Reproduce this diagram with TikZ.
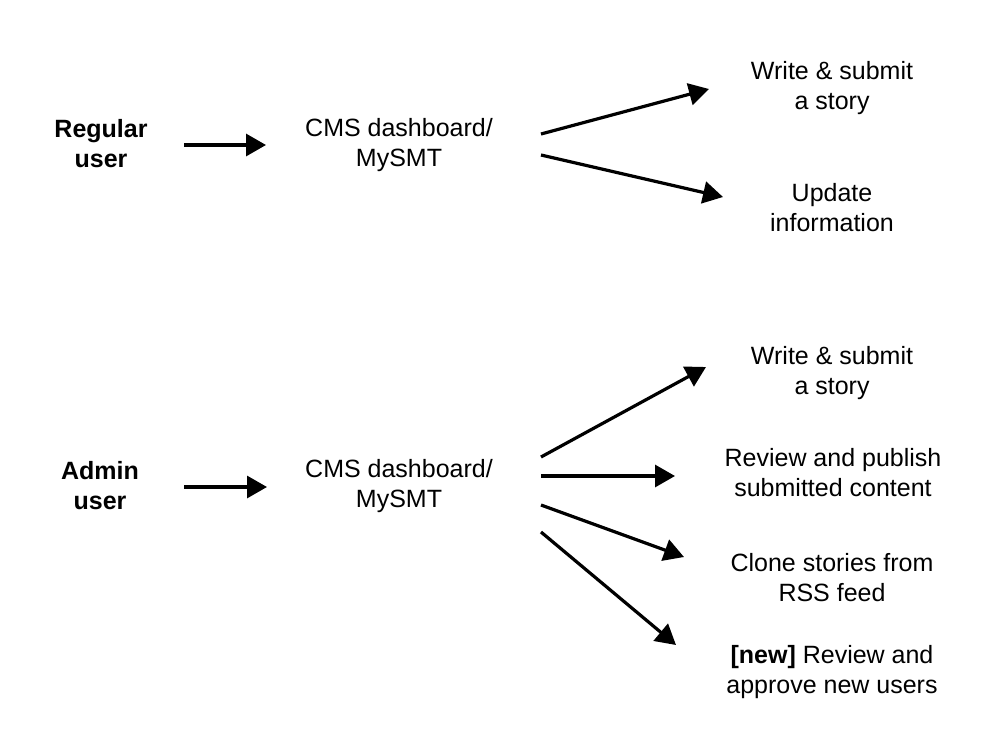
\documentclass[tikz,border=0pt]{standalone}
\usepackage{fontspec}
\setmainfont{Liberation Sans}
\usetikzlibrary{arrows.meta}
\begin{document}
\begin{tikzpicture}[x=1pt,y=-1pt,
  lbl/.style={align=center,inner sep=0pt,font=\fontsize{25pt}{30pt}\selectfont},
  who/.style={lbl,font=\fontsize{25pt}{30pt}\selectfont\bfseries},
  conn/.style={line width=3.2pt,-{Triangle[length=20pt,width=22pt]}}]
\useasboundingbox (0,0) rectangle (1000,750);
% Regular user section
\node[who] (reg) at (101,144) {Regular\\user};
\node[lbl] (cms1) at (399,145) {CMS dashboard/\\MySMT};
\node[lbl] (w1) at (832,88) {Write \& submit\\a story};
\node[lbl] (u1) at (832,208) {Update\\information};
\coordinate (r0) at (184,145);
\coordinate (r1) at (266,145);
\coordinate (c1a) at (541,134);
\coordinate (c1b) at (541,155);
\coordinate (t1a) at (709,89);
\coordinate (t1b) at (723,197);
\draw[conn] (r0) -- (r1);
\draw[conn] (c1a) -- (t1a);
\draw[conn] (c1b) -- (t1b);
% Admin user section
\node[who] (adm) at (100,486) {Admin\\user};
\node[lbl] (cms2) at (399,486) {CMS dashboard/\\MySMT};
\node[lbl] (w2) at (832,373) {Write \& submit\\a story};
\node[lbl] (rp) at (833,473) {Review and publish\\submitted content};
\node[lbl] (cl) at (832,578) {Clone stories from\\RSS feed};
\node[lbl] (nw) at (832,672) {\textbf{[new]} Review and\\approve new users};
\coordinate (a0) at (184,487);
\coordinate (a1) at (267,487);
\coordinate (s1) at (541,457);
\coordinate (s2) at (541,476);
\coordinate (s3) at (541,505);
\coordinate (s4) at (541,532);
\coordinate (e1) at (706,367);
\coordinate (e2) at (675,476);
\coordinate (e3) at (684,557);
\coordinate (e4) at (676,645);
\draw[conn] (a0) -- (a1);
\draw[conn] (s1) -- (e1);
\draw[conn] (s2) -- (e2);
\draw[conn] (s3) -- (e3);
\draw[conn] (s4) -- (e4);
\end{tikzpicture}
\end{document}
